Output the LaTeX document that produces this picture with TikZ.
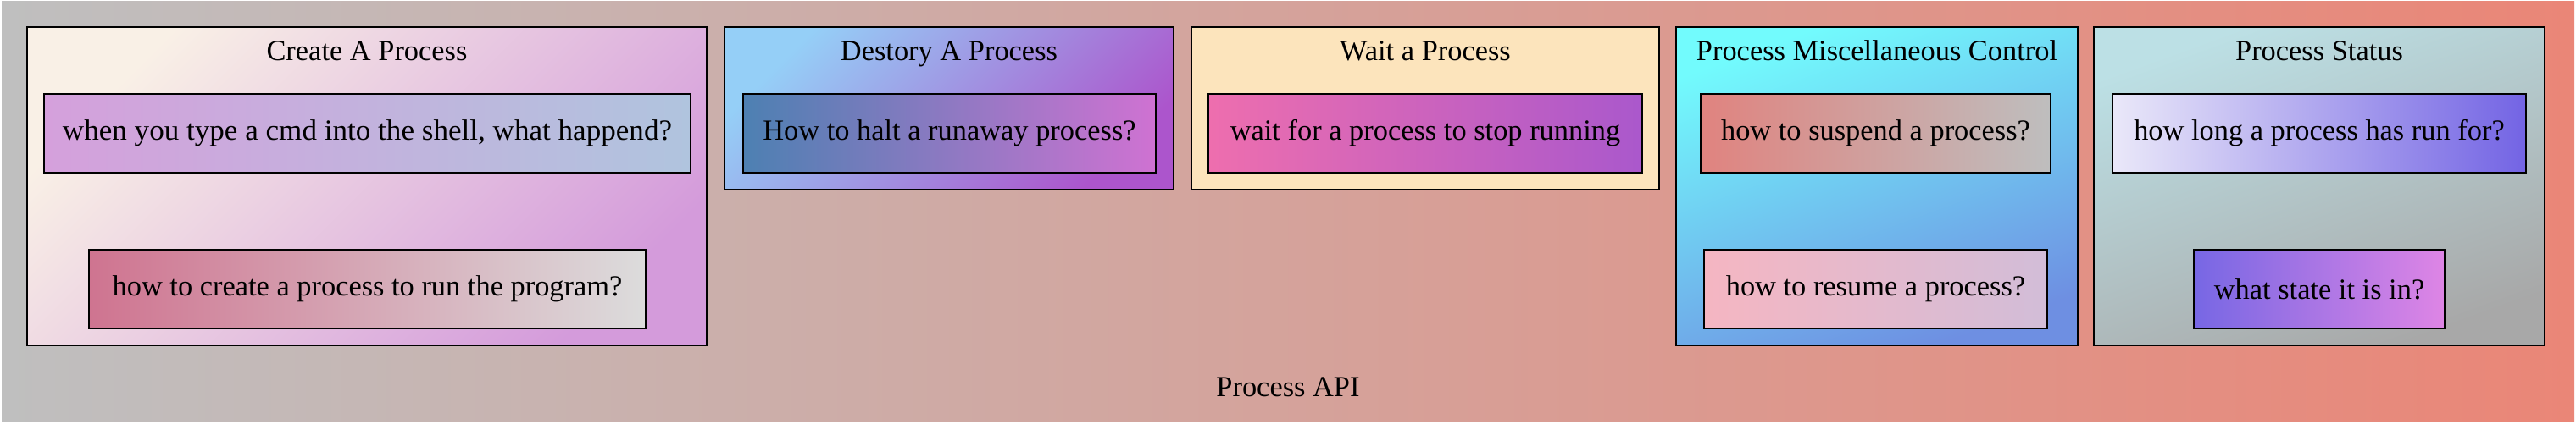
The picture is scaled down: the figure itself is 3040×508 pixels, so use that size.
\documentclass[tikz,border=0pt]{standalone}
\usepackage{fontspec}
\usepackage{graphicx}
\setmainfont{Liberation Serif}
\usetikzlibrary{fit}
\definecolor{outL}{HTML}{BFBFBF}
\definecolor{outR}{HTML}{EA8677}
\definecolor{cLinen}{HTML}{F9F0E6}
\definecolor{cPlum}{HTML}{D49BDB}
\definecolor{aL}{HTML}{D5A0DC}
\definecolor{aR}{HTML}{B0C4DE}
\definecolor{bL}{HTML}{CF7490}
\definecolor{bR}{HTML}{DCDCDC}
\definecolor{dSky}{HTML}{95CFF7}
\definecolor{dOrch}{HTML}{AC55CC}
\definecolor{eL}{HTML}{4D80B2}
\definecolor{eR}{HTML}{CF72D2}
\definecolor{wFill}{HTML}{FCE4BC}
\definecolor{wL}{HTML}{EE6EAE}
\definecolor{wR}{HTML}{AA58CC}
\definecolor{mTop}{HTML}{72FBFD}
\definecolor{mBot}{HTML}{6E8FE2}
\definecolor{m1L}{HTML}{E0837F}
\definecolor{m1R}{HTML}{BEBEBE}
\definecolor{m2L}{HTML}{F5B6C2}
\definecolor{m2R}{HTML}{D2BDD8}
\definecolor{sTop}{HTML}{BCE0E5}
\definecolor{sBot}{HTML}{A8A8A8}
\definecolor{s1L}{HTML}{EAE8F9}
\definecolor{s1R}{HTML}{7364E4}
\definecolor{s2L}{HTML}{7767E4}
\definecolor{s2R}{HTML}{DE85E5}
\begin{document}
\begin{tikzpicture}[x=0.5pt,y=-0.5pt,
  txt/.style={font=\fontsize{17.2pt}{20pt}\selectfont, inner sep=0pt},
  frame/.style={draw=black, line width=0.9pt, inner sep=0pt, rectangle},
  qbox/.style={frame, txt, minimum height=46.5pt, anchor=center},
  titletext/.style={txt, anchor=base}
]
\useasboundingbox (0,0) rectangle (3040,508);
% outer cluster
\node[fit={(2,2) (3038,498)}, inner sep=0pt, left color=outL, right color=outR] (outer) {};
\node[titletext] (outerT) at (1520,468) {Process API};

% Create A Process
\node[frame, fit={(32,32) (834,408)}, top color=cLinen, bottom color=cPlum, shading angle=45] (create) {};
\node[titletext] (createT) at (433,72) {Create A Process};
\node[qbox, minimum width=381.5pt, left color=aL, right color=aR] (cmd) at (433.5,157.5) {\scalebox{1.02}[1]{when you type a cmd into the shell, what happend?}};
\node[qbox, minimum width=328.5pt, left color=bL, right color=bR] (createq) at (433.5,341.5) {how to create a process to run the program?};

% Destory A Process
\node[frame, fit={(855,32) (1385,224)}, top color=dSky, bottom color=dOrch, shading angle=45] (destroy) {};
\node[titletext] (destroyT) at (1120,72) {Destory A Process};
\node[qbox, minimum width=243.5pt, left color=eL, right color=eR] (halt) at (1120.5,157.5) {How to halt a runaway process?};

% Wait a Process
\node[frame, fit={(1406,32) (1958,224)}, fill=wFill] (wait) {};
\node[titletext] (waitT) at (1682,72) {Wait a Process};
\node[qbox, minimum width=256pt, left color=wL, right color=wR] (waitq) at (1682,157.5) {wait for a process to stop running};

% Process Miscellaneous Control
\node[frame, fit={(1978,32) (2452,408)}, top color=mTop, bottom color=mBot, shading angle=20] (misc) {};
\node[titletext] (miscT) at (2215,72) {Process Miscellaneous Control};
\node[qbox, minimum width=206.5pt, left color=m1L, right color=m1R] (suspend) at (2213.5,157.5) {how to suspend a process?};
\node[qbox, minimum width=202.5pt, left color=m2L, right color=m2R] (resume) at (2213.5,341.5) {how to resume a process?};

% Process Status
\node[frame, fit={(2471,32) (3003,408)}, top color=sTop, bottom color=sBot, shading angle=20] (status) {};
\node[titletext] (statusT) at (2737,72) {Process Status};
\node[qbox, minimum width=244pt, left color=s1L, right color=s1R] (howlong) at (2737,157.5) {how long a process has run for?};
\node[qbox, minimum width=148pt, left color=s2L, right color=s2R] (state) at (2737,341.5) {what state it is in?};
\end{tikzpicture}
\end{document}
